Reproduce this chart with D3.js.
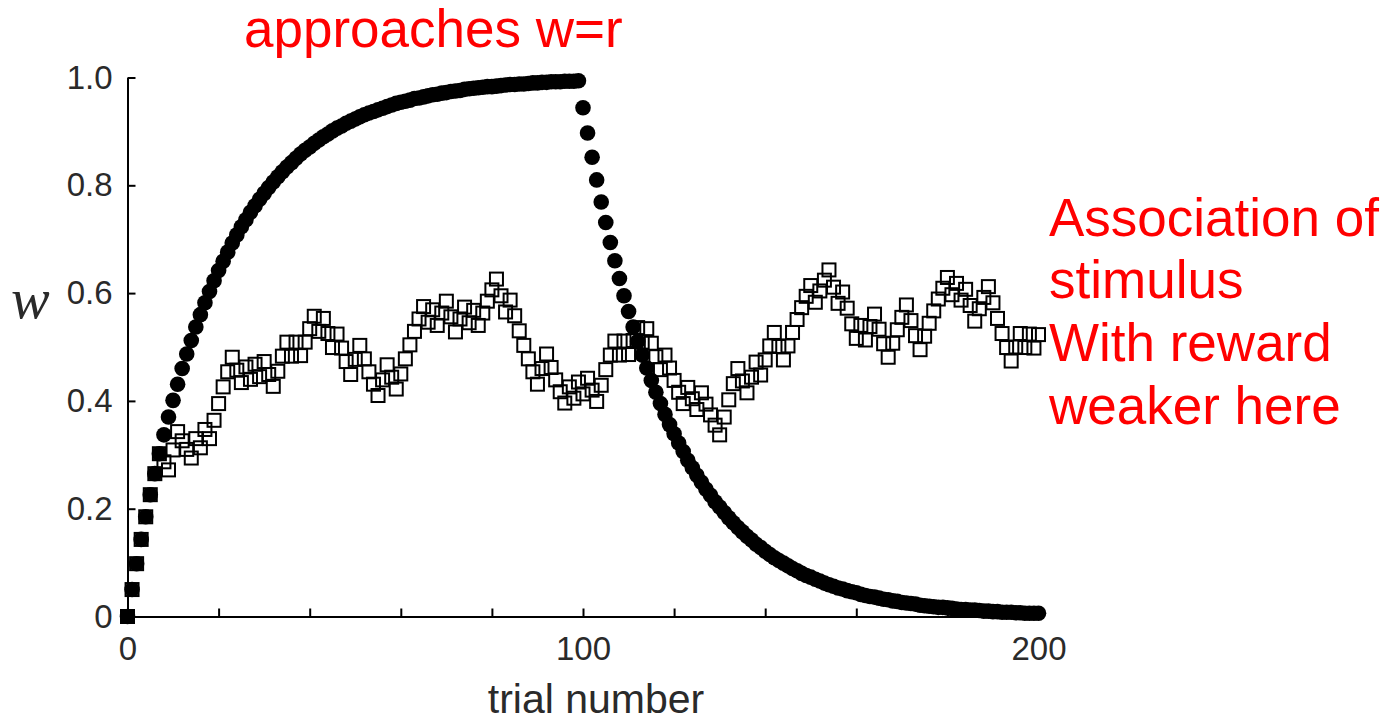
<!DOCTYPE html>
<html>
<head>
<meta charset="utf-8">
<script src="https://cdn.jsdelivr.net/npm/d3@7"></script>
<style>
  html, body { margin: 0; padding: 0; background: #fff; }
  svg { display: block; }
</style>
</head>
<body>
<svg id="chart" width="1393" height="722"></svg>
<script>
// ---- data ----
const trials = d3.range(0, 201);
// filled circles: w approaches r=1 for 100 trials, then decays when reward removed
const wCircles = [
  0, .050, .098, .143, .185, .226, .265, .302, .337, .370,
  .401, .431, .460, .487, .512, .537, .560, .582, .603, .623,
  .642, .659, .676, .693, .708, .723, .736, .750, .762, .774,
  .785, .796, .806, .816, .825, .834, .842, .850, .858, .865,
  .871, .878, .884, .890, .895, .901, .906, .910, .915, .919,
  .923, .927, .931, .934, .937, .940, .943, .946, .949, .952,
  .954, .956, .958, .961, .962, .964, .966, .968, .969, .971,
  .972, .974, .975, .976, .978, .979, .980, .981, .982, .983,
  .983, .984, .985, .986, .987, .987, .988, .988, .989, .990,
  .990, .991, .991, .992, .992, .992, .993, .993, .993, .994,
  .944, .897, .852, .810, .769, .731, .694, .660, .627, .595,
  .566, .537, .510, .485, .461, .438, .416, .395, .375, .356,
  .339, .322, .306, .290, .276, .262, .249, .236, .225, .213,
  .203, .193, .183, .174, .165, .157, .149, .142, .134, .128,
  .121, .115, .109, .104, .099, .094, .089, .085, .080, .076,
  .073, .069, .066, .062, .059, .056, .053, .051, .048, .046,
  .044, .041, .039, .037, .036, .034, .032, .031, .029, .028,
  .026, .025, .024, .023, .021, .020, .019, .018, .017, .017,
  .016, .015, .014, .013, .013, .012, .012, .011, .010, .010,
  .009, .009, .008, .008, .008, .007, .007, .006, .006, .006,
  .006
];
// open squares: partially rewarded stimulus
const wSquares = [
  0, .050, .098, .143, .185, .226, .265, .302, .287, .272,
  .309, .343, .326, .310, .294, .330, .313, .347, .330, .364,
  .395, .426, .454, .481, .457, .434, .463, .440, .468, .445,
  .473, .449, .427, .455, .483, .509, .483, .509, .484, .509,
  .534, .557, .529, .553, .525, .499, .524, .498, .473, .449,
  .477, .503, .478, .454, .431, .410, .439, .467, .444, .422,
  .450, .478, .504, .529, .552, .575, .546, .569, .540, .563,
  .585, .556, .528, .552, .574, .545, .568, .540, .563, .585,
  .606, .626, .595, .565, .587, .558, .530, .503, .478, .454,
  .431, .460, .487, .462, .439, .417, .396, .426, .405, .435,
  .413, .442, .420, .399, .429, .458, .485, .511, .485, .511,
  .486, .512, .536, .509, .534, .507, .482, .458, .485, .461,
  .438, .416, .395, .425, .404, .384, .415, .394, .374, .355,
  .337, .370, .402, .432, .460, .437, .415, .444, .472, .448,
  .476, .502, .527, .501, .476, .502, .527, .551, .573, .594,
  .614, .583, .604, .624, .643, .611, .581, .602, .572, .543,
  .516, .540, .513, .538, .561, .533, .506, .481, .507, .532,
  .555, .578, .549, .521, .495, .520, .544, .567, .589, .609,
  .629, .597, .618, .587, .607, .577, .548, .571, .592, .612,
  .582, .553, .525, .499, .474, .500, .525, .499, .524, .498,
  .523
];
const yTicks = [0, 0.2, 0.4, 0.6, 0.8, 1.0];
const yTickLabels = ["0", "0.2", "0.4", "0.6", "0.8", "1.0"];
const xTicks = [0, 20, 40, 60, 80, 100, 120, 140, 160, 180, 200];
const xTickLabels = ["0", "", "", "", "", "100", "", "", "", "", "200"];
const titleText = "approaches w=r";
const noteLines = ["Association of", "stimulus", "With reward", "weaker here"];
const xLabel = "trial number";
const yLabel = "w";

// ---- drawing ----
const svg = d3.select("#chart");
const x = d3.scaleLinear().domain([0, 200]).range([127.5, 1038.5]);
const y = d3.scaleLinear().domain([0, 1]).range([616.5, 77.5]);

// axes
const yAxis = d3.axisLeft(y)
  .tickValues(yTicks)
  .tickSize(-8).tickSizeOuter(0)
  .tickPadding(15)
  .tickFormat((d, i) => yTickLabels[i]);
const gy = svg.append("g").attr("transform", `translate(${x(0)},0)`).call(yAxis);

const xAxis = d3.axisBottom(x)
  .tickValues(xTicks)
  .tickSize(-8).tickSizeOuter(0)
  .tickPadding(20)
  .tickFormat((d, i) => xTickLabels[i]);
const gx = svg.append("g").attr("transform", `translate(0,${y(0)})`).call(xAxis);

[gx, gy].forEach(g => {
  g.select(".domain").attr("stroke", "#000").attr("stroke-width", 2);
  g.selectAll(".tick line").attr("stroke", "#000").attr("stroke-width", 2);
  g.selectAll(".tick text")
    .attr("fill", "#2a2a2a")
    .style("font-family", "'Liberation Sans', Arial, sans-serif");
});
gy.selectAll(".tick text").style("font-size", "33px");
gx.selectAll(".tick text").style("font-size", "33px");

// circles
svg.append("g").selectAll("circle")
  .data(trials)
  .join("circle")
  .attr("cx", d => x(d))
  .attr("cy", d => y(wCircles[d]))
  .attr("r", 7.8)
  .attr("fill", "#000");

// squares
const s = 13;
svg.append("g").selectAll("rect")
  .data(trials)
  .join("rect")
  .attr("x", d => x(d) - s / 2)
  .attr("y", d => y(wSquares[d]) - s / 2)
  .attr("width", s)
  .attr("height", s)
  .attr("fill", "none")
  .attr("stroke", "#000")
  .attr("stroke-width", 2);

// axis labels
svg.append("text")
  .attr("x", 596).attr("y", 713)
  .attr("text-anchor", "middle")
  .attr("fill", "#2a2a2a")
  .style("font-family", "'Liberation Sans', Arial, sans-serif")
  .style("font-size", "41px")
  .text(xLabel);

svg.append("text")
  .attr("x", 11).attr("y", 318)
  .attr("fill", "#2a2a2a")
  .style("font-family", "'Liberation Serif', 'Times New Roman', serif")
  .style("font-style", "italic")
  .style("font-size", "58px")
  .text(yLabel);

// red annotations
svg.append("text")
  .attr("x", 244).attr("y", 47)
  .attr("fill", "#ff0000")
  .style("font-family", "'Liberation Sans', Arial, sans-serif")
  .style("font-size", "53px")
  .text(titleText);

const baselines = [236, 298, 361, 424];
svg.append("g").selectAll("text")
  .data(noteLines)
  .join("text")
  .attr("x", 1049)
  .attr("y", (d, i) => baselines[i])
  .attr("fill", "#ff0000")
  .style("font-family", "'Liberation Sans', Arial, sans-serif")
  .style("font-size", "53px")
  .text(d => d);
</script>
</body>
</html>
